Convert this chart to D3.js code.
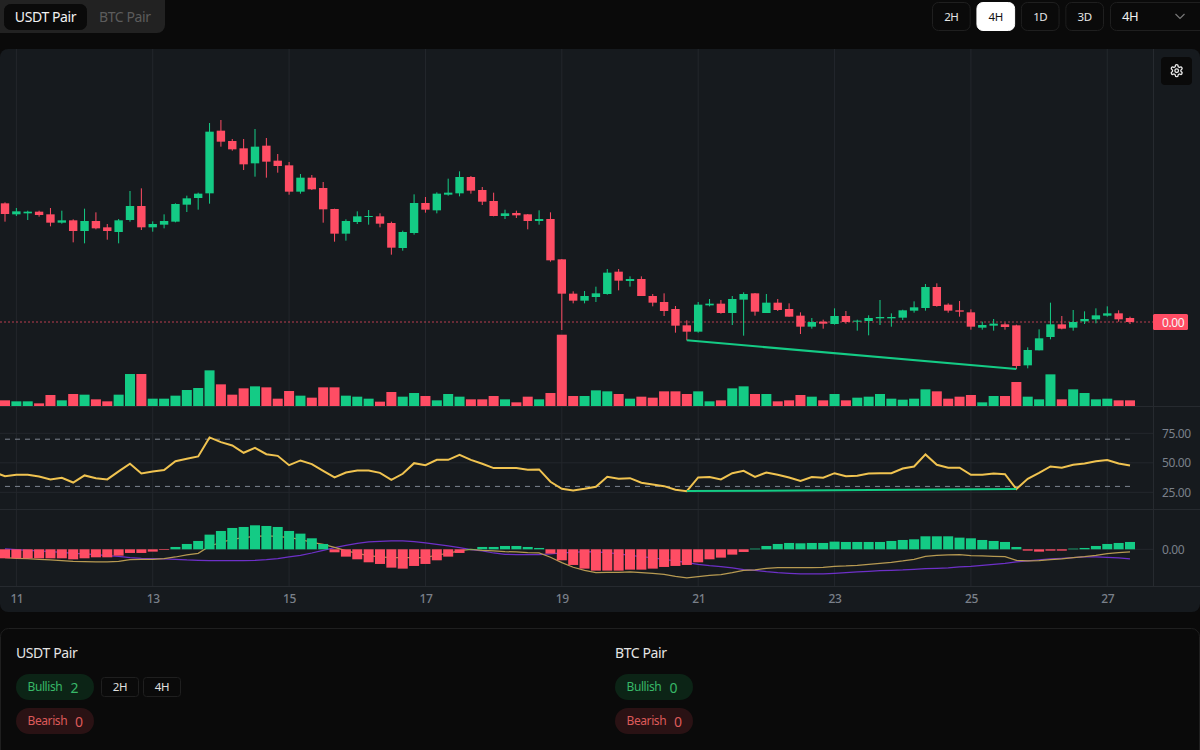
<!DOCTYPE html>
<html>
<head>
<meta charset="utf-8">
<script src="https://cdn.jsdelivr.net/npm/d3@7"></script>
<style>
html, body { margin: 0; padding: 0; background: #0a0a0a; overflow: hidden; }
svg { display: block; font-family: "Noto Sans", sans-serif; letter-spacing: -0.4px; }
</style>
</head>
<body>
<svg id="page" width="1200" height="750"></svg>
<script>
// values, price and macd are in chart units
var opens = [605,572,575,580,572,547,554,522,552,533,519,555,597,533,541,550,601,621,635,823,
  792,770,725,778,733,719,640,682,651,588,514,549,564,566,546,471,516,606,584,631,
  635,684,645,612,567,576,572,552,558,437,334,313,324,333,400,372,378,327,309,288,
  239,220,299,304,276,316,335,276,307,288,268,235,250,243,267,251,252,260,260,262,
  283,291,354,301,284,278,232,238,242,239,119,164,204,242,232,251,257,268,275,261];
var highs = [608,591,583,583,591,583,557,589,578,543,558,642,650,551,572,605,628,637,846,855,
  798,798,828,801,753,729,693,690,669,589,557,581,585,575,550,523,632,624,638,679,
  701,687,654,637,586,583,573,584,578,438,341,342,355,408,408,386,386,333,335,297,
  254,309,318,315,327,338,336,333,318,305,278,261,256,290,282,256,269,315,275,286,
  311,363,365,305,312,287,250,258,247,241,173,227,307,267,285,281,290,296,284,265];
var lows = [550,567,555,565,536,544,488,485,527,496,485,550,525,520,530,548,579,586,604,775,
  763,705,685,682,697,631,634,645,547,490,493,543,541,533,451,463,511,577,575,628,
  626,634,600,566,558,561,527,541,430,225,305,305,309,331,344,355,327,296,267,217,
  194,217,296,274,240,208,268,276,282,265,213,229,229,241,244,223,209,240,235,255,
  277,283,295,277,265,226,226,223,226,108,110,164,197,227,223,243,245,265,250,243];
var closes = [573,581,580,570,547,554,522,552,530,522,554,597,533,543,552,603,620,634,820,790,
  767,722,775,730,717,640,682,647,587,514,552,566,567,544,472,519,606,586,634,637,
  684,643,610,567,575,569,552,558,434,334,313,327,335,397,373,378,327,307,282,238,
  220,301,304,276,318,333,280,307,285,265,235,249,244,267,249,253,261,264,264,284,
  293,354,297,283,280,235,240,244,234,117,165,200,242,229,249,258,269,275,257,249];
var volumes = [17,14,14,8,33,17,36,34,20,14,34,96,96,22,22,31,48,54,107,65,
  34,53,59,56,22,45,31,25,56,56,31,28,22,13,42,28,39,30,17,36,
  28,20,20,30,20,11,28,20,39,214,30,30,47,44,36,22,28,25,44,44,
  36,44,14,17,53,59,36,36,14,17,33,28,17,36,17,25,28,36,22,19,
  22,50,44,22,28,33,11,30,30,72,28,20,95,20,50,39,20,22,17,17];
// rsi starts one bar before the first candle, that bar is off the left edge
var rsiValues = [42.1,38.7,39.8,39.8,38.4,35.9,37.3,33.3,39.3,37.0,35.9,42.7,49.2,41.0,42.7,43.8,51.4,53.4,55.4,71.5,67.5,
  64.7,58.5,62.7,57.3,55.9,48.0,52.0,48.9,43.2,37.6,41.8,43.5,43.5,41.5,35.6,40.7,49.7,48.0,52.5,52.5,
  56.8,52.5,49.2,45.5,45.5,45.5,44.1,44.4,33.9,28.0,26.6,28.0,29.7,38.1,36.4,37.0,33.1,31.6,30.2,27.1,
  26.0,37.6,37.9,35.9,41.2,43.2,38.1,41.8,39.8,37.6,34.7,37.9,37.3,41.2,38.7,39.0,41.0,41.2,41.2,45.2,
  46.9,57.1,48.3,45.8,45.8,39.8,39.8,41.0,40.4,27.7,36.4,41.5,46.9,45.8,48.3,49.4,51.4,52.3,49.4,47.7];
var macdHist = [-27,-27,-27,-27,-27,-27,-30,-27,-24,-24,-19,-11,-11,-7,-2,7,16,25,44,55,
  64,67,72,70,67,55,47,33,16,-9,-22,-30,-39,-44,-55,-58,-50,-44,-33,-22,
  -11,1,7,7,10,10,7,4,-13,-33,-47,-58,-64,-64,-64,-61,-61,-58,-53,-50,
  -47,-39,-30,-25,-16,-8,2,10,16,19,18,19,19,23,22,22,22,22,25,28,
  30,39,39,39,35,33,28,25,22,7,-4,-7,-4,-4,2,4,10,16,19,22];
var macdLine = [-25,-27,-28,-30,-32,-34,-36,-37,-38,-38,-36,-31,-30,-30,-28,-23,-17,-12,9,21,
  30,35,39,40,39,35,30,21,15,6,-4,-12,-19,-23,-25,-25,-25,-25,-17,-12,
  -4,0,-3,-5,-7,-8,-10,-11,-24,-40,-54,-63,-70,-69,-69,-68,-70,-72,-75,-81,
  -86,-82,-78,-76,-70,-63,-62,-57,-55,-55,-55,-55,-54,-51,-50,-48,-45,-42,-39,-35,
  -30,-21,-18,-17,-16,-19,-20,-21,-22,-33,-35,-34,-31,-29,-25,-22,-18,-13,-10,-8];
var signalLine = [1,-1,-3,-5,-7,-9,-12,-14,-16,-19,-21,-25,-27,-28,-29,-30,-32,-33,-34,-34,
  -34,-34,-33,-31,-28,-23,-18,-11,-3,5,12,18,22,24,25,25,23,19,15,10,
  5,-1,-5,-11,-15,-16,-16,-16,-14,-11,-9,-7,-8,-10,-14,-18,-22,-26,-30,-35,
  -40,-45,-49,-52,-56,-61,-63,-67,-70,-72,-74,-74,-74,-72,-70,-68,-66,-64,-63,-62,
  -60,-58,-57,-56,-53,-51,-48,-45,-42,-38,-35,-32,-29,-27,-25,-23,-23,-24,-26,-29];

var dayTicks = [1,13,25,37,49,61,73,85,97];
var dayLabels = ['11','13','15','17','19','21','23','25','27'];
var rsiTicks = [25,50,75];
var rsiBands = [30,70];
var divergenceBars = [60,89];
var intervalButtons = ['2H','4H','1D','3D'];
var activeInterval = '4H';

var green = '#14cb85', red = '#ff4d64', gridColor = '#23272c', axisText = '#7a808a';
var chartBg = '#161a1e', pageBg = '#0a0a0a';

var svg = d3.select('#page');

// scales
var x = d3.scaleLinear().domain([0, 99]).range([5, 1130]);
var yPrice = d3.scaleLinear().domain([0, 855]).range([405, 120]);
var yVol = d3.scaleLinear().domain([0, 214]).range([406, 334.7]);
var yRsi = d3.scaleLinear().domain([25, 75]).range([492.3, 433.3]);
var yMacd = d3.scaleLinear().domain([0, 72]).range([549.3, 525.3]);

var n_bars = d3.range(opens.length);

// ---- top bar
function button(g, bx, by, w, h, label, opt) {
    opt = opt || {};
    g.append('rect').attr('x', bx + 0.5).attr('y', by + 0.5).attr('width', w - 1).attr('height', h - 1)
        .attr('rx', opt.r || 6).attr('fill', opt.fill || pageBg).attr('stroke', opt.stroke || '#1f1f1f');
    g.append('text').attr('x', opt.tx !== undefined ? opt.tx : bx + w / 2).attr('y', by + h / 2 - 0.5)
        .attr('text-anchor', opt.tx !== undefined ? 'start' : 'middle').attr('dominant-baseline', 'central')
        .attr('font-size', opt.size || 12).attr('fill', opt.color || '#e5e5e5').text(label);
}

var topBar = svg.append('g');
topBar.append('rect').attr('x', -8).attr('y', -8).attr('width', 173).attr('height', 41).attr('rx', 8).attr('fill', '#222222');
button(topBar, 4, 4, 83, 26, 'USDT Pair', { fill: pageBg, stroke: pageBg, size: 14, color: '#f2f2f2' });
topBar.append('text').attr('x', 99).attr('y', 16.5).attr('dominant-baseline', 'central')
    .attr('font-size', 14).attr('fill', '#5c5c5c').text('BTC Pair');

var btnX = d3.scaleBand().domain(intervalButtons).range([932, 1104]).paddingInner(0.13).paddingOuter(0);
intervalButtons.forEach(function(b) {
    var on = b === activeInterval;
    button(topBar, btnX(b), 2, btnX.bandwidth(), 29, b, {
        fill: on ? '#ffffff' : pageBg, stroke: on ? '#ffffff' : '#1f1f1f', color: on ? '#111111' : '#e5e5e5', size: 11.5
    });
});
button(topBar, 1110, 2, 98, 29, '4H', { tx: 1122, size: 13, color: '#f0f0f0' });
topBar.append('path').attr('d', 'M1175.5 14 L1180 18.5 L1184.5 14').attr('fill', 'none')
    .attr('stroke', '#777').attr('stroke-width', 1.2);

// ---- chart panel
var defs = svg.append('defs');
defs.append('clipPath').attr('id', 'panel-clip').append('rect')
    .attr('x', 0).attr('y', 49).attr('width', 1200).attr('height', 563).attr('rx', 8);
var panel = svg.append('g').attr('clip-path', 'url(#panel-clip)');
panel.append('rect').attr('x', 0).attr('y', 49).attr('width', 1200).attr('height', 563).attr('fill', chartBg);

// vertical grid through the panes
panel.append('g').selectAll('line').data(dayTicks).join('line')
    .attr('x1', function(d) { return x(d); }).attr('x2', function(d) { return x(d); })
    .attr('y1', 49).attr('y2', 586.5).attr('stroke', gridColor);

// pane borders
[406.5, 509.5, 586.5].forEach(function(py) {
    panel.append('line').attr('x1', 0).attr('x2', 1200).attr('y1', py).attr('y2', py)
        .attr('stroke', '#262a2f');
});
panel.append('line').attr('x1', 1153.5).attr('x2', 1153.5).attr('y1', 49).attr('y2', 586.5).attr('stroke', '#262a2f');

// last price line + tag
var lastY = yPrice(closes[closes.length - 1]);
panel.append('line').attr('x1', 0).attr('x2', 1153).attr('y1', lastY).attr('y2', lastY)
    .attr('stroke', red).attr('stroke-opacity', 0.7).attr('stroke-dasharray', '2 2');
panel.append('rect').attr('x', 1153).attr('y', lastY - 8).attr('width', 35).attr('height', 16).attr('rx', 1.5).attr('fill', red);
panel.append('text').attr('x', 1162).attr('y', lastY).attr('dominant-baseline', 'central')
    .attr('font-size', 12).attr('fill', '#f5f5f5').text('0.00');

// volume
panel.append('g').selectAll('rect').data(n_bars).join('rect')
    .attr('x', function(i) { return x(i) - 5; }).attr('width', 10)
    .attr('y', function(i) { return yVol(volumes[i]); })
    .attr('height', function(i) { return yVol(0) - yVol(volumes[i]); })
    .attr('fill', function(i) { return closes[i] >= opens[i] ? green : red; });

// candles
var candle = panel.append('g').selectAll('g').data(n_bars).join('g')
    .attr('fill', function(i) { return closes[i] >= opens[i] ? green : red; });
candle.append('rect').attr('x', function(i) { return x(i) - 0.5; }).attr('width', 1)
    .attr('y', function(i) { return yPrice(highs[i]); })
    .attr('height', function(i) { return yPrice(lows[i]) - yPrice(highs[i]); });
candle.append('rect').attr('x', function(i) { return x(i) - 4.2; }).attr('width', 8.4)
    .attr('y', function(i) { return yPrice(Math.max(opens[i], closes[i])); })
    .attr('height', function(i) { return Math.max(1, Math.abs(yPrice(opens[i]) - yPrice(closes[i]))); });

// divergence line on price
panel.append('line')
    .attr('x1', x(divergenceBars[0])).attr('y1', yPrice(lows[divergenceBars[0]]))
    .attr('x2', x(divergenceBars[1])).attr('y2', yPrice(lows[divergenceBars[1]]))
    .attr('stroke', green).attr('stroke-width', 2);

// rsi pane
panel.append('g').selectAll('line').data(rsiTicks).join('line')
    .attr('x1', 0).attr('x2', 1153).attr('y1', function(d) { return yRsi(d); }).attr('y2', function(d) { return yRsi(d); })
    .attr('stroke', gridColor);
panel.append('g').selectAll('line').data(rsiBands).join('line')
    .attr('x1', x(0)).attr('x2', x(99)).attr('y1', function(d) { return yRsi(d); }).attr('y2', function(d) { return yRsi(d); })
    .attr('stroke', '#7d8590').attr('stroke-dasharray', '5 5');

var rsiLine = d3.line().x(function(d, i) { return x(i - 1); }).y(function(d) { return yRsi(d); });
panel.append('path').datum(rsiValues).attr('d', rsiLine).attr('fill', 'none')
    .attr('stroke', '#f0c350').attr('stroke-width', 2);
panel.append('line')
    .attr('x1', x(divergenceBars[0])).attr('y1', yRsi(rsiValues[divergenceBars[0] + 1]))
    .attr('x2', x(divergenceBars[1])).attr('y2', yRsi(rsiValues[divergenceBars[1] + 1]))
    .attr('stroke', green).attr('stroke-width', 2);

// macd pane, the histogram sits over the two lines
panel.append('line').attr('x1', 0).attr('x2', 1153).attr('y1', yMacd(0)).attr('y2', yMacd(0)).attr('stroke', gridColor);
var macdPath = d3.line().x(function(d, i) { return x(i); }).y(function(d) { return yMacd(d); });
panel.append('path').datum(signalLine).attr('d', macdPath).attr('fill', 'none').attr('stroke', '#6d30c8').attr('stroke-width', 1.2);
panel.append('path').datum(macdLine).attr('d', macdPath).attr('fill', 'none').attr('stroke', '#b79a52').attr('stroke-width', 1.2);
panel.append('g').selectAll('rect').data(n_bars).join('rect')
    .attr('x', function(i) { return x(i) - 5; }).attr('width', 10)
    .attr('y', function(i) { return yMacd(Math.max(macdHist[i], 0)); })
    .attr('height', function(i) { return Math.abs(yMacd(macdHist[i]) - yMacd(0)); })
    .attr('fill', function(i) { return macdHist[i] >= 0 ? green : red; });

// axes
var timeAxis = d3.axisBottom(x).tickValues(dayTicks).tickSize(0).tickPadding(0)
    .tickFormat(function(d, i) { return dayLabels[i]; });
var timeG = panel.append('g').attr('transform', 'translate(0,594)').call(timeAxis);
var rsiAxis = d3.axisRight(yRsi).tickValues(rsiTicks).tickSize(0).tickPadding(0).tickFormat(d3.format('.2f'));
var rsiG = panel.append('g').attr('transform', 'translate(1162,0)').call(rsiAxis);
var macdAxis = d3.axisRight(yMacd).tickValues([0]).tickSize(0).tickPadding(0).tickFormat(d3.format('.2f'));
var macdG = panel.append('g').attr('transform', 'translate(1162,0)').call(macdAxis);
[timeG, rsiG, macdG].forEach(function(g) {
    g.select('.domain').remove();
    g.selectAll('text').attr('font-family', '"Noto Sans", sans-serif').attr('font-size', 12).attr('fill', axisText);
});
timeG.selectAll('text').attr('font-weight', 500);

// settings button
var gear = panel.append('g');
gear.append('rect').attr('x', 1161).attr('y', 57).attr('width', 31).attr('height', 28).attr('rx', 4).attr('fill', pageBg);
var icon = gear.append('g').attr('transform', 'translate(1169.5,63.5) scale(0.6)')
    .attr('fill', 'none').attr('stroke', '#e8e8e8').attr('stroke-width', 2.2);
icon.append('path').attr('d', 'M12.22 2h-.44a2 2 0 0 0-2 2v.18a2 2 0 0 1-1 1.73l-.43.25a2 2 0 0 1-2 0l-.15-.08a2 2 0 0 0-2.73.73l-.22.38a2 2 0 0 0 .73 2.73l.15.1a2 2 0 0 1 1 1.72v.51a2 2 0 0 1-1 1.74l-.15.09a2 2 0 0 0-.73 2.73l.22.38a2 2 0 0 0 2.73.73l.15-.08a2 2 0 0 1 2 0l.43.25a2 2 0 0 1 1 1.73V20a2 2 0 0 0 2 2h.44a2 2 0 0 0 2-2v-.18a2 2 0 0 1 1-1.73l.43-.25a2 2 0 0 1 2 0l.15.08a2 2 0 0 0 2.73-.73l.22-.39a2 2 0 0 0-.73-2.73l-.15-.08a2 2 0 0 1-1-1.74v-.5a2 2 0 0 1 1-1.74l.15-.09a2 2 0 0 0 .73-2.73l-.22-.38a2 2 0 0 0-2.73-.73l-.15.08a2 2 0 0 1-2 0l-.43-.25a2 2 0 0 1-1-1.73V4a2 2 0 0 0-2-2z');
icon.append('circle').attr('cx', 12).attr('cy', 12).attr('r', 3);

// ---- summary panel
var summary = svg.append('g');
summary.append('rect').attr('x', 0.5).attr('y', 628.5).attr('width', 1199).attr('height', 130).attr('rx', 8)
    .attr('fill', pageBg).attr('stroke', '#1f1f1f');

function pill(px, py, label, count, countX, bg, color) {
    summary.append('rect').attr('x', px).attr('y', py).attr('width', 78).attr('height', 26).attr('rx', 13).attr('fill', bg);
    summary.append('text').attr('x', px + 11.5).attr('y', py + 12.5).attr('dominant-baseline', 'central')
        .attr('font-size', 12).attr('fill', color).text(label);
    summary.append('text').attr('x', px + countX).attr('y', py + 13).attr('dominant-baseline', 'central')
        .attr('font-size', 14).attr('fill', color).text(count);
}

function pairBlock(px, title, bull, bear, timeframes) {
    summary.append('text').attr('x', px).attr('y', 652.5).attr('dominant-baseline', 'central')
        .attr('font-size', 14).attr('fill', '#e5e5e5').text(title);
    pill(px, 674, 'Bullish', bull, 54.5, '#0c2416', '#38b868');
    pill(px, 708, 'Bearish', bear, 59, '#2a1214', '#dd5a5a');
    timeframes.forEach(function(t, i) {
        button(summary, 101 + i * 42, 677, 38, 20, t, { r: 3, size: 11.5, color: '#e0e0e0' });
    });
}

pairBlock(16, 'USDT Pair', 2, 0, ['2H', '4H']);
pairBlock(615, 'BTC Pair', 0, 0, []);
</script>
</body>
</html>
